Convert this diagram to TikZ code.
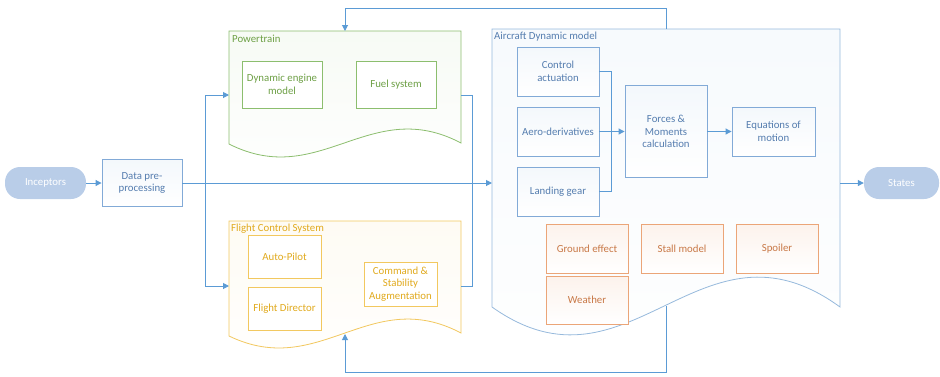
\documentclass[tikz,border=0pt]{standalone}
\usepackage{fontspec}
\setmainfont{Carlito}
\usetikzlibrary{arrows.meta, positioning}

\definecolor{lineblue}{RGB}{91,155,213}
\definecolor{boxblue}{RGB}{130,170,215}
\definecolor{admblue}{RGB}{150,185,220}
\definecolor{txtblue}{RGB}{85,125,175}
\definecolor{pillblue}{RGB}{185,205,232}
\definecolor{ptgreen}{RGB}{140,190,110}
\definecolor{pttext}{RGB}{110,160,70}
\definecolor{fcsyellow}{RGB}{242,200,95}
\definecolor{fcstext}{RGB}{225,170,30}
\definecolor{envorange}{RGB}{235,165,120}
\definecolor{envtext}{RGB}{200,120,70}

\begin{document}
\begin{tikzpicture}[x=1pt, y=-1pt,
        every node/.style={font=\fontsize{10.8}{12.5}\selectfont, align=center, inner sep=1pt},
        pill/.style={fill=pillblue, text=white, rounded corners=15pt, minimum height=32pt},
        blkbox/.style={draw=boxblue, line width=0.9pt, top color=lineblue!7, bottom color=white, text=txtblue, minimum width=82pt, minimum height=49pt},
        ptbox/.style={draw=ptgreen, line width=0.9pt, fill=white, text=pttext, minimum width=80pt, minimum height=47pt},
        fcsbox/.style={draw=fcsyellow, line width=0.9pt, fill=white, text=fcstext, minimum width=73pt, minimum height=43pt},
        envbox/.style={draw=envorange, line width=0.9pt, top color=envorange!14, bottom color=white, text=envtext, minimum width=82pt, minimum height=49pt},
        link/.style={draw=lineblue, line width=1pt},
        arr/.style={link, -{Triangle[length=6pt,width=6pt]}},
    ]
    \useasboundingbox (0,0) rectangle (940,376);

    % containers
    \draw[draw=ptgreen, line width=0.8pt, top color=ptgreen!7, bottom color=white]
        (229,31) -- (461,31) -- (461,143) .. controls (370,95) and (320,190) .. (229,144) -- cycle;
    \draw[draw=fcsyellow, line width=0.8pt, top color=fcsyellow!7, bottom color=white]
        (229,221) -- (461,221) -- (461,333) .. controls (370,285) and (320,380) .. (229,336) -- cycle;
    \draw[draw=admblue, line width=0.8pt, top color=lineblue!5, bottom color=white]
        (492,29) -- (840,29) -- (840,307) .. controls (700,205) and (630,405) .. (492,307) -- cycle;

    \node[anchor=west, text=pttext] (pt title) at (231,39) {Powertrain};
    \node[anchor=west, text=fcstext] (fcs title) at (230,229) {Flight Control System};
    \node[anchor=west, text=txtblue] (adm title) at (493,37) {Aircraft Dynamic model};

    % outer nodes
    \node[pill, minimum width=81pt] (incp) at (45.5,183) {Inceptors};
    \node[blkbox, minimum width=80pt, minimum height=47pt] (data) at (142,183) {Data pre-\\processing};
    \node[pill, minimum width=75pt] (states) at (901.5,183) {States};

    % powertrain
    \node[ptbox] (engine) at (282,84.5) {Dynamic engine\\model};
    \node[ptbox] (fuel) at (396,84.5) {Fuel system};

    % flight control system
    \node[fcsbox] (ap) at (284.5,256.5) {Auto-Pilot};
    \node[fcsbox] (fd) at (284.5,308.5) {Flight Director};
    \node[fcsbox, minimum height=44pt] (csa) at (400.5,284) {Command \&\\Stability\\Augmentation};

    % aircraft dynamic model
    \node[blkbox] (ctrl) at (558,71.5) {Control\\actuation};
    \node[blkbox] (aero) at (558,131.5) {Aero-derivatives};
    \node[blkbox] (gear) at (558,191.5) {Landing gear};
    \node[blkbox, minimum height=92pt] (forces) at (666,131.5) {Forces \&\\Moments\\calculation};
    \node[blkbox, minimum width=83pt] (eom) at (773.5,131.5) {Equations of\\motion};

    \node[envbox] (ground) at (587,248.5) {Ground effect};
    \node[envbox] (stall) at (682,248.5) {Stall model};
    \node[envbox] (spoiler) at (777,248.5) {Spoiler};
    \node[envbox, minimum height=48pt] (weather) at (587,300) {Weather};

    % connection points
    \coordinate (split) at (205,183);
    \coordinate (merge) at (472,183);
    \coordinate (pt in) at (229,95);
    \coordinate (pt out) at (461,95);
    \coordinate (pt top) at (345,31);
    \coordinate (fcs in) at (229,286);
    \coordinate (fcs out) at (461,286);
    \coordinate (fcs bot) at (345,334);
    \coordinate (adm in) at (492,183);
    \coordinate (adm out) at (840,183);
    \coordinate (adm top) at (666,29);
    \coordinate (adm bot) at (666,306);
    \coordinate (fb top) at (345,8);
    \coordinate (fb bot) at (345,372);
    \coordinate (jn) at (611,131.5);

    \draw[arr] (incp) -- (data);
    \draw[arr] (data.east) -- (adm in);
    \draw[arr] (split) |- (pt in);
    \draw[arr] (split) |- (fcs in);
    \draw[link] (pt out) -| (merge);
    \draw[link] (fcs out) -| (merge);

    \draw[link] (ctrl.east) -| (jn);
    \draw[link] (gear.east) -| (jn);
    \draw[arr] (aero.east) -- (forces.west);
    \draw[arr] (forces.east) -- (eom.west);

    \draw[arr] (adm out) -- (states);
    \draw[arr] (adm top) |- (fb top) -- (pt top);
    \draw[arr] (adm bot) |- (fb bot) -- (fcs bot);
\end{tikzpicture}
\end{document}
